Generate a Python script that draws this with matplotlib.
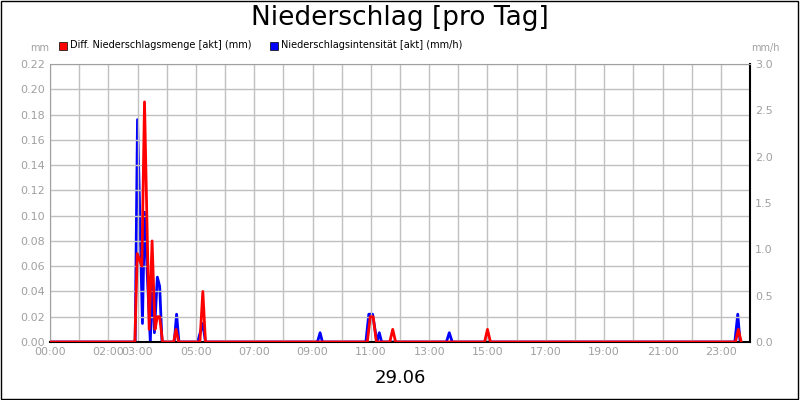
import matplotlib
matplotlib.use("Agg")
import matplotlib.pyplot as plt
from matplotlib.patches import Rectangle

# times in hours, values
red_t = [0, 2.91, 2.99, 3.15, 3.24, 3.4, 3.5, 3.6, 3.68, 3.76, 3.86, 4.24, 4.32, 4.41,
         5.14, 5.24, 5.33, 10.88, 10.98, 11.08, 11.19, 11.65, 11.75, 11.85, 14.9, 15.0, 15.1,
         23.5, 23.6, 23.7]
red_v = [0, 0, 0.07, 0.06, 0.19, 0.01, 0.08, 0.01, 0.02, 0.02, 0, 0, 0.01, 0,
         0, 0.04, 0, 0, 0.02, 0.02, 0, 0, 0.01, 0, 0, 0.01, 0,
         0, 0.01, 0]
blue_t = [0, 2.92, 3.0, 3.17, 3.24, 3.44, 3.5, 3.58, 3.68, 3.76, 3.84, 4.26, 4.34, 4.42,
          5.06, 5.24, 5.33, 9.17, 9.26, 9.34, 10.83, 10.93, 11.06, 11.21, 11.29, 11.37,
          13.59, 13.69, 13.79, 23.48, 23.58, 23.66]
blue_v = [0, 0, 2.4, 0.2, 1.4, 0, 0.7, 0.1, 0.7, 0.6, 0, 0, 0.3, 0,
          0, 0.2, 0, 0, 0.1, 0, 0, 0.3, 0.3, 0, 0.1, 0,
          0, 0.1, 0, 0, 0.3, 0]
tick_hours = [0, 2, 3, 5, 7, 9, 11, 13, 15, 17, 19, 21, 23]
tick_labels = ["%02d:00" % h for h in tick_hours]

fig = plt.figure(figsize=(8, 4), dpi=100)
fig.patches.append(Rectangle((0.001, 0.002), 0.997, 0.995, transform=fig.transFigure,
                             fill=False, edgecolor='black', lw=1))
ax = fig.add_axes([50/800, 1-342/400, 700/800, 278/400])
ax.set_xlim(0, 24)
ax.set_ylim(0, 0.22)
ax.set_yticks([i*0.02 for i in range(12)])
ax.set_yticklabels(["%.2f" % (i*0.02) for i in range(12)])
ax.set_xticks(range(0, 25), minor=True)
ax.set_xticks(tick_hours)
ax.set_xticklabels(tick_labels)
ax.grid(True, which='both', color='#c0c0c0', lw=1)
ax.set_axisbelow(True)
ax.tick_params(colors='#a0a0a0', labelsize=8, length=0, which='both')
for s in ax.spines.values():
    s.set_color('#a0a0a0')
ax.spines['bottom'].set_color('black')
ax.spines['bottom'].set_linewidth(1.5)
ax.spines['right'].set_color('black')
ax.spines['right'].set_linewidth(1.5)
ax2 = ax.twinx()
ax2.set_ylim(0, 3.0)
ax2.set_yticks([0, 0.5, 1.0, 1.5, 2.0, 2.5, 3.0])
ax2.set_yticklabels(["0.0", "0.5", "1.0", "1.5", "2.0", "2.5", "3.0"])
ax2.tick_params(colors='#a0a0a0', labelsize=8, length=0)
for s in ax2.spines.values():
    s.set_visible(False)
ax2.plot(blue_t, blue_v, color='blue', lw=2)
ax.plot(red_t, red_v, color='red', lw=2, zorder=5)
ax.set_zorder(ax2.get_zorder()+1); ax.patch.set_visible(False)

fig.text(0.5, 0.955, "Niederschlag [pro Tag]", ha='center', va='center', fontsize=19)
fig.text(40/800, 0.88, "mm", ha='center', va='center', fontsize=7, color='#a0a0a0')
fig.text(765/800, 0.88, "mm/h", ha='center', va='center', fontsize=7, color='#a0a0a0')
fig.patches.append(Rectangle((59/800, 1-50/400), 8/800, 8/400, transform=fig.transFigure,
                             facecolor='red', edgecolor='black', lw=0.5))
fig.text(70/800, 1-45/400, "Diff. Niederschlagsmenge [akt] (mm)", va='center', fontsize=7)
fig.patches.append(Rectangle((270/800, 1-50/400), 8/800, 8/400, transform=fig.transFigure,
                             facecolor='blue', edgecolor='black', lw=0.5))
fig.text(281/800, 1-45/400, "Niederschlagsintensität [akt] (mm/h)", va='center', fontsize=7)
fig.text(0.5, 1-378/400, "29.06", ha='center', va='center', fontsize=13)
fig.savefig("out.png", dpi=100, facecolor='white')
